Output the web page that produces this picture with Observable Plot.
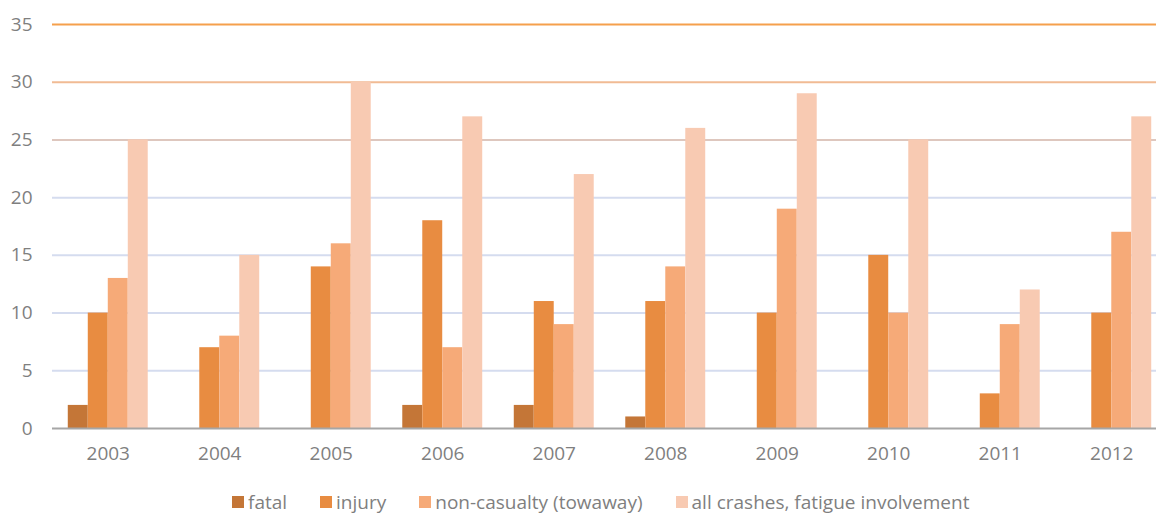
<!DOCTYPE html>
<html>
<head>
<meta charset="utf-8">
<script src="https://cdn.jsdelivr.net/npm/d3@7"></script>
<script src="https://cdn.jsdelivr.net/npm/@observablehq/plot@0.6"></script>
<style>
  html, body { margin: 0; padding: 0; background: #fff; overflow: hidden; width: 1156px; height: 514px; }
  #chart { width: 1167px; }
  #chart svg { display: block; max-width: none !important; }
  #legend { display: flex; align-items: center; margin-left: 232px; margin-top: 17px;
    font-family: "Open Sans", sans-serif; font-size: 19px; color: #7f7f7f; line-height: 22px; white-space: nowrap; }
  #legend .item { display: flex; align-items: center; margin-right: 33px; }
  #legend .sw { width: 12px; height: 12px; margin-right: 4px; }
</style>
</head>
<body>
<div id="chart"></div>
<div id="legend"></div>
<script>
const years = ["2003","2004","2005","2006","2007","2008","2009","2010","2011","2012"];
const seriesNames = ["fatal","injury","non-casualty (towaway)","all crashes, fatigue involvement"];
const fatal   = [2, 0, 0, 2, 2, 1, 0, 0, 0, 0];
const injury  = [10, 7, 14, 18, 11, 11, 10, 15, 3, 10];
const nonCasualty = [13, 8, 16, 7, 9, 14, 19, 10, 9, 17];
const allCrashes  = [25, 15, 30, 27, 22, 26, 29, 25, 12, 27];
const yTicks = [0, 5, 10, 15, 20, 25, 30, 35];

const seriesValues = [fatal, injury, nonCasualty, allCrashes];
const colors = ["#C47637", "#E88C41", "#F6AA78", "#F8CAB2"];
const gridColor = v => v === 35 ? "#F5A04C" : v === 30 ? "#F1BB94" : v === 25 ? "#DEC7BE" : "#D5DCEF";

const barW = 20;
const barMarks = seriesValues.map((vals, i) => {
  const data = years.map((y, j) => ({year: y, value: vals[j]}));
  return Plot.barY(data, {
    x: "year", y: "value", fill: colors[i],
    insetLeft: barW * i, insetRight: barW * (3 - i)
  });
});

const plot = Plot.plot({
  width: 1167,
  height: 474,
  marginTop: 24,
  marginBottom: 46,
  marginLeft: 52,
  marginRight: 0,
  style: { fontFamily: "Open Sans, sans-serif", fontSize: "19px", color: "#7f7f7f", background: "#fff", maxWidth: "none" },
  x: { domain: years, paddingInner: 0.283, paddingOuter: 0.1415, round: false, label: null, tickSize: 0, tickPadding: 18 },
  y: { domain: [0, 35], ticks: yTicks, label: null, tickSize: 0, tickPadding: 20 },
  marks: [
    Plot.ruleY(yTicks.filter(v => v > 0), { y: d => d, stroke: gridColor, strokeWidth: 2 }),
    ...barMarks,
    Plot.ruleY([0], { stroke: "#A6A6A6", strokeWidth: 2 })
  ]
});
document.getElementById("chart").appendChild(plot);

const legend = document.getElementById("legend");
seriesNames.forEach((name, i) => {
  const item = document.createElement("div");
  item.className = "item";
  const sw = document.createElement("div");
  sw.className = "sw";
  sw.style.background = colors[i];
  const label = document.createElement("span");
  label.textContent = name;
  item.appendChild(sw);
  item.appendChild(label);
  legend.appendChild(item);
});
</script>
</body>
</html>
